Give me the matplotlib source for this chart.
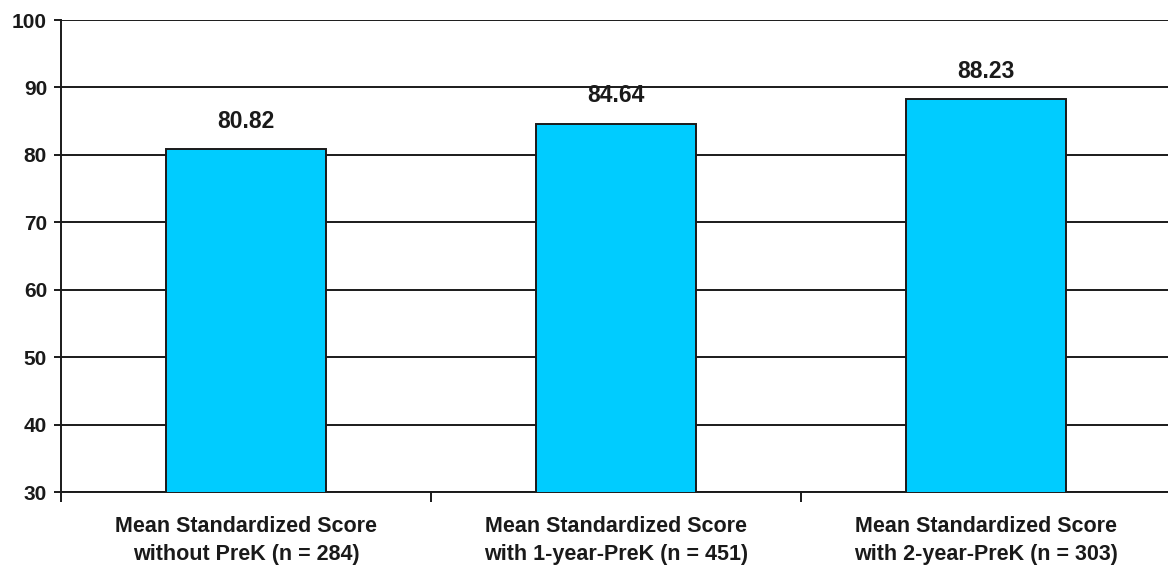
import numpy as np
import matplotlib.pyplot as plt

# Data
categories = ["Mean Standardized Score\nwithout PreK (n = 284)",
              "Mean Standardized Score\nwith 1-year-PreK (n = 451)",
              "Mean Standardized Score\nwith 2-year-PreK (n = 303)"]
scores = [80.82, 84.64, 88.23]
y_ticks = [30, 40, 50, 60, 70, 80, 90, 100]

plt.rcParams['font.family'] = ['Liberation Sans', 'DejaVu Sans']
text_col = '#1a1a1a'

fig = plt.figure(figsize=(11.68, 5.71), dpi=100)
# axes runs slightly past the right edge of the picture, as in the original
ax = fig.add_axes([61/1168, 79/571, 1110/1168, 472/571])

x = np.arange(len(categories))
ax.bar(x, scores, width=0.43, color='#00CCFF', edgecolor='#1a1a1a',
       linewidth=1.4, zorder=3, bottom=0)

for xi, s in zip(x, scores):
    ax.annotate(f"{s:.2f}", (xi, s), xytext=(0, 20), textcoords='offset points',
                ha='center', va='center', fontsize=16.5, fontweight='bold',
                color=text_col)

ax.set_ylim(30, 100)
ax.set_xlim(-0.5, 2.5)
ax.set_yticks(y_ticks)
ax.set_yticklabels([str(t) for t in y_ticks], fontsize=15, fontweight='bold',
                   color=text_col)
ax.yaxis.grid(True, color='#1a1a1a', linewidth=1.4, zorder=0)
ax.set_axisbelow(True)

# boundary ticks on the category axis, labels centred between them
ax.set_xticks([-0.5, 0.5, 1.5, 2.5])
ax.set_xticklabels([])
ax.set_xticks(x, minor=True)
ax.set_xticklabels(categories, minor=True, fontsize=15.5, fontweight='bold',
                   color=text_col, linespacing=1.45)
ax.tick_params(axis='x', which='major', length=7, width=1.4, direction='out',
               color='#1a1a1a')
ax.tick_params(axis='x', which='minor', length=0, pad=17)
ax.tick_params(axis='y', length=5, width=1.4, color='#1a1a1a', pad=5)

for side in ['top', 'right']:
    ax.spines[side].set_visible(False)
for side in ['left', 'bottom']:
    ax.spines[side].set_linewidth(1.4)
    ax.spines[side].set_color('#1a1a1a')

fig.savefig('out.png', dpi=100)
